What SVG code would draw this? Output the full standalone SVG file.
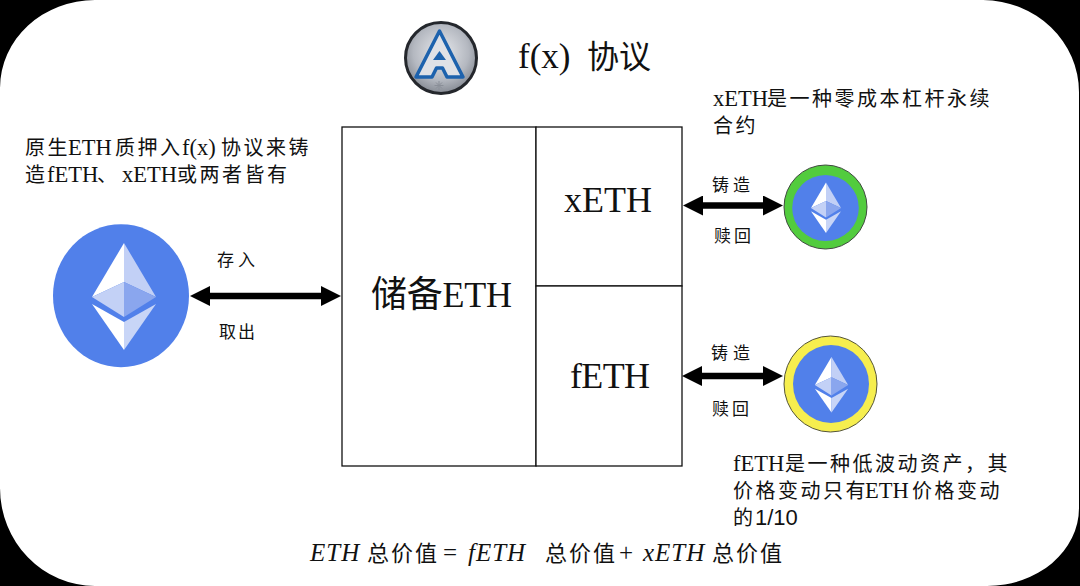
<svg xmlns="http://www.w3.org/2000/svg" width="1080" height="586" viewBox="0 0 1080 586">
<style>
text{font-family:"Liberation Serif","Noto Sans CJK SC",serif;fill:#111}
.note{font-size:20px}
.note .l{font-size:22.500px}
.note .s{font-family:"Liberation Sans",sans-serif;font-size:22px}
.cjk{letter-spacing:2.500px}
.lab{font-size:17px}
.big{font-size:36px}
.form{font-size:22px;letter-spacing:2px}
.m{font-size:25px;font-style:italic;letter-spacing:1px}
.box{fill:#fff;stroke:#111;stroke-width:1.3}
.arrow{stroke:#000;stroke-width:6.500;fill:none;marker-start:url(#head);marker-end:url(#head)}
</style>
<defs>
<marker id="head" markerUnits="userSpaceOnUse" viewBox="0 -10 20 20" refX="1" refY="0" markerWidth="20" markerHeight="20" orient="auto-start-reverse">
<path d="M0-10L20 0L0 10z" fill="#000"/>
</marker>
<radialGradient id="silver" cx=".5" cy=".42" r=".6">
<stop offset="0" stop-color="#e8eaee"/><stop offset=".65" stop-color="#b4b8c0"/><stop offset="1" stop-color="#80858e"/>
</radialGradient>
<g id="eth">
<path d="M0-54L-32 0L0-15z" fill="#fff"/>
<path d="M0-54L32 0L0-15z" fill="#c2d0f6"/>
<path d="M0-15L-32 0L0 20z" fill="#c3d1f6"/>
<path d="M0-15L32 0L0 20z" fill="#8aa6ee"/>
<path d="M-32 7L0 53L0 25z" fill="#fff"/>
<path d="M32 7L0 53L0 25z" fill="#c8d5f7"/>
</g>
</defs>
<rect width="1080" height="586" fill="#000"/>
<path d="M95 0H983A97 92 0 0 1 1079 92V508A92 78 0 0 1 987 586H95A95 98 0 0 1 0 488V88A95 88 0 0 1 95 0z" fill="#fff"/>

<g id="title">
<circle cx="441" cy="58" r="35.500" fill="url(#silver)" stroke="#24272c" stroke-width="3"/>
<path d="M439.500 31L416 77L432 77L436.500 68L442.500 68L447 77L463 77z" fill="#dfe1e6" stroke="#1d62ad" stroke-width="3.500" stroke-linejoin="round"/>
<path d="M439.500 51L433 60L446 60z" fill="#1d62ad"/>
<path d="M439 81V90M434.500 85.500H443.500M436 82.500L442 88.500M442 82.500L436 88.500" stroke="#8a8f98" stroke-width="1" fill="none"/>
<text x="518" y="68" font-size="35">f(x)</text>
<text x="587" y="68" font-size="32">协议</text>
</g>

<g id="note-left">
<text class="note" y="155"><tspan class="cjk" x="25">原生</tspan><tspan class="l" x="68">ETH</tspan><tspan class="cjk" x="115">质押入</tspan><tspan class="l" x="182">f(x)</tspan><tspan class="cjk" x="221">协议来铸</tspan></text>
<text class="note" y="182"><tspan class="cjk" x="25">造</tspan><tspan class="l" x="47">fETH</tspan><tspan class="cjk" x="97">、</tspan><tspan class="l" x="122">xETH</tspan><tspan class="cjk" x="177">或两者皆有</tspan></text>
</g>

<g id="node-eth">
<ellipse cx="121" cy="295.700" rx="68" ry="71.500" fill="#5180ea"/>
<use href="#eth" x="124" y="297"/>
</g>

<g id="node-reserve">
<rect class="box" x="342" y="127" width="194" height="339"/>
<text class="big" x="371" y="307" textLength="141">储备ETH</text>
</g>
<g id="node-xeth">
<rect class="box" x="536" y="127" width="146" height="159"/>
<text class="big" x="564" y="212" textLength="88">xETH</text>
</g>
<g id="node-feth">
<rect class="box" x="536" y="286" width="146" height="180"/>
<text class="big" x="570" y="388" textLength="80">fETH</text>
</g>

<g id="node-xeth-coin">
<ellipse cx="825.500" cy="207" rx="41.500" ry="42" fill="#52cc3e" stroke="#3f4a3f" stroke-width="1"/>
<ellipse cx="825.500" cy="208" rx="33.300" ry="33" fill="#5180ea"/>
<use href="#eth" transform="translate(826 208) scale(.47)"/>
</g>
<g id="node-feth-coin">
<ellipse cx="830.500" cy="384" rx="46.500" ry="48" fill="#f6ee4e" stroke="#55553a" stroke-width="1"/>
<ellipse cx="831" cy="384" rx="38" ry="39" fill="#5180ea"/>
<use href="#eth" transform="translate(831.500 385) scale(.52)"/>
</g>

<g id="connectors">
<line class="arrow" x1="209" y1="296" x2="322" y2="296"/>
<line class="arrow" x1="702" y1="205.500" x2="764" y2="205.500"/>
<line class="arrow" x1="701" y1="376" x2="764" y2="376"/>
</g>

<g id="labels">
<text class="lab" x="217" y="266" textLength="38">存入</text>
<text class="lab" x="219" y="338" textLength="36">取出</text>
<text class="lab" x="712" y="191" textLength="38">铸造</text>
<text class="lab" x="714" y="242" textLength="37">赎回</text>
<text class="lab" x="711" y="359" textLength="39">铸造</text>
<text class="lab" x="712" y="415" textLength="37">赎回</text>
</g>

<g id="note-xeth">
<text class="note" y="106"><tspan class="l" x="713">xETH</tspan><tspan class="cjk" x="767">是一种零成本杠杆永续</tspan></text>
<text class="note cjk" x="713" y="133">合约</text>
</g>
<g id="note-feth">
<text class="note" y="471"><tspan class="l" x="733">fETH</tspan><tspan class="cjk" x="785">是一种低波动资产，其</tspan></text>
<text class="note" y="498"><tspan class="cjk" x="733">价格变动只有</tspan><tspan class="l" x="865">ETH</tspan><tspan class="cjk" x="912">价格变动</tspan></text>
<text class="note" y="525"><tspan class="cjk" x="733">的</tspan><tspan class="s" x="755">1/10</tspan></text>
</g>

<g id="formula" class="form">
<text class="m" x="310" y="561">ETH</text>
<text x="367" y="561">总价值</text>
<text x="443" y="561" font-size="25">=</text>
<text class="m" x="468" y="561">fETH</text>
<text x="545" y="561">总价值</text>
<text x="619" y="561" font-size="25">+</text>
<text class="m" x="643" y="561">xETH</text>
<text x="712" y="561">总价值</text>
</g>
</svg>
